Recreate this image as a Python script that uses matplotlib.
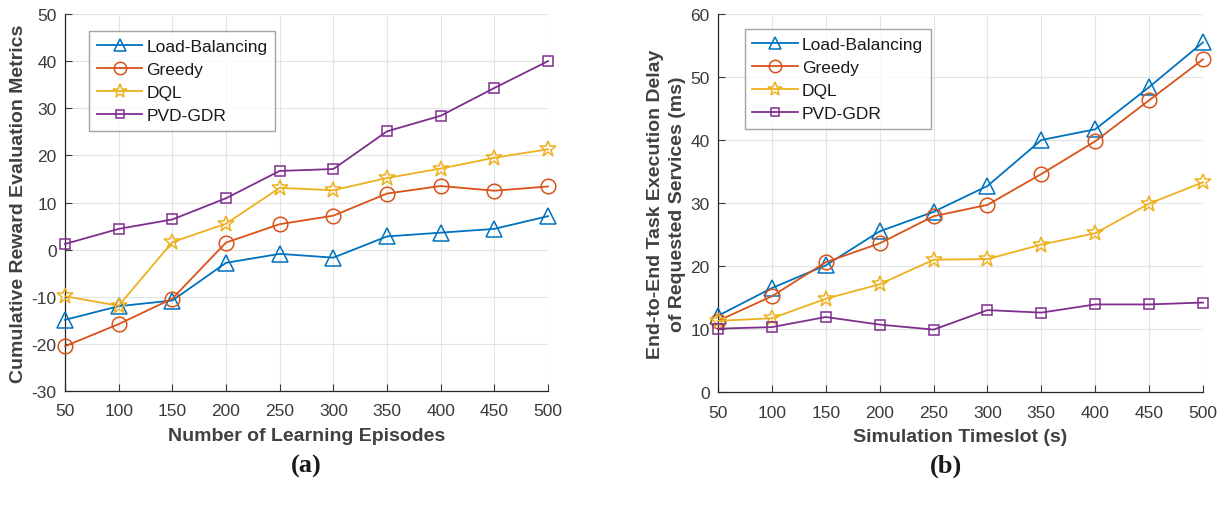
import matplotlib
matplotlib.use("Agg")
import matplotlib.pyplot as plt

plt.rcParams['font.family'] = ['Liberation Sans', 'DejaVu Sans']
plt.rcParams['axes.unicode_minus'] = False

# x values
episodes = [50, 100, 150, 200, 250, 300, 350, 400, 450, 500]
timeslots = [50, 100, 150, 200, 250, 300, 350, 400, 450, 500]

# (a) cumulative reward
reward_lb = [-14.9, -12.0, -10.8, -2.8, -0.9, -1.7, 2.8, 3.6, 4.4, 7.1]
reward_greedy = [-20.5, -15.8, -10.4, 1.5, 5.4, 7.2, 11.9, 13.5, 12.5, 13.4]
reward_dql = [-9.9, -11.9, 1.6, 5.5, 13.1, 12.6, 15.2, 17.2, 19.5, 21.3]
reward_pvd = [1.2, 4.4, 6.4, 10.9, 16.7, 17.1, 25.1, 28.4, 34.3, 40.0]

# (b) end-to-end delay
delay_lb = [12.1, 16.5, 20.1, 25.5, 28.6, 32.7, 40.0, 41.7, 48.4, 55.5]
delay_greedy = [11.3, 15.2, 20.6, 23.6, 27.9, 29.7, 34.6, 39.8, 46.3, 52.8]
delay_dql = [11.3, 11.7, 14.8, 17.1, 21.0, 21.1, 23.4, 25.2, 29.9, 33.3]
delay_pvd = [10.05, 10.3, 11.9, 10.7, 9.9, 13.0, 12.6, 13.9, 13.9, 14.2]

names = ['Load-Balancing', 'Greedy', 'DQL', 'PVD-GDR']
colors = ['#0072BD', '#D95319', '#EDB120', '#7E2F8E']
markers = ['^', 'o', '*', 's']
msizes = [11, 10.5, 12, 7.5]
txt = '#262626'

fig = plt.figure(figsize=(12.25, 5.1), dpi=100)
ax1 = fig.add_axes([65/1225, 1-392/510, 483/1225, 377/510])
ax2 = fig.add_axes([718/1225, 1-393/510, 485/1225, 378/510])


def draw(ax, x, series, ylim, yticks, xlabel, ylabel):
    for y, name, c, m, ms in zip(series, names, colors, markers, msizes):
        ax.plot(x, y, color=c, marker=m, markersize=ms, markerfacecolor='none',
                markeredgewidth=1.1, linewidth=1.3, label=name, clip_on=False, zorder=3)
    ax.set_xlim(50, 500)
    ax.set_ylim(*ylim)
    ax.set_xticks(x)
    ax.set_yticks(yticks)
    ax.grid(True, color='#E3E3E3', linewidth=0.8)
    ax.set_axisbelow(True)
    for s in ['top', 'right']:
        ax.spines[s].set_visible(False)
    for s in ['left', 'bottom']:
        ax.spines[s].set_color(txt)
        ax.spines[s].set_linewidth(0.9)
    ax.tick_params(direction='in', length=5, labelsize=12.5, colors='#3a3a3a')
    ax.tick_params(axis='x', pad=9)
    ax.tick_params(axis='y', pad=6)
    ax.set_xlabel(xlabel, fontsize=14, fontweight='bold', color='#404040', labelpad=6)
    ax.set_ylabel(ylabel, fontsize=14, fontweight='bold', color='#404040', labelpad=3,
                  linespacing=1.4)
    leg = ax.legend(loc='upper left', fontsize=12.5, frameon=True, fancybox=False,
                    edgecolor='#8C8C8C', handlelength=2.6, borderpad=0.45,
                    labelspacing=0.45, handletextpad=0.25, borderaxespad=0,
                    markerscale=0.85)
    leg.get_frame().set_linewidth(1.0)
    for t in leg.get_texts():
        t.set_color('#1a1a1a')
    return leg


leg1 = draw(ax1, episodes, [reward_lb, reward_greedy, reward_dql, reward_pvd],
            (-30, 50), range(-30, 51, 10), 'Number of Learning Episodes',
            'Cumulative Reward Evaluation Metrics')
leg1.set_bbox_to_anchor((0.05, 0.955), transform=ax1.transAxes)

leg2 = draw(ax2, timeslots, [delay_lb, delay_greedy, delay_dql, delay_pvd],
            (0, 60), range(0, 61, 10), 'Simulation Timeslot (s)',
            'End-to-End Task Execution Delay\nof Requested Services (ms)')
leg2.set_bbox_to_anchor((0.055, 0.96), transform=ax2.transAxes)

fig.text(306/1225, 1-466/510, '(a)', fontsize=19, fontweight='bold', family='Liberation Serif',
         ha='center', va='center', color='#1a1a1a')
fig.text(946/1225, 1-466/510, '(b)', fontsize=19, fontweight='bold', family='Liberation Serif',
         ha='center', va='center', color='#1a1a1a')

fig.savefig('out.png', dpi=100)
